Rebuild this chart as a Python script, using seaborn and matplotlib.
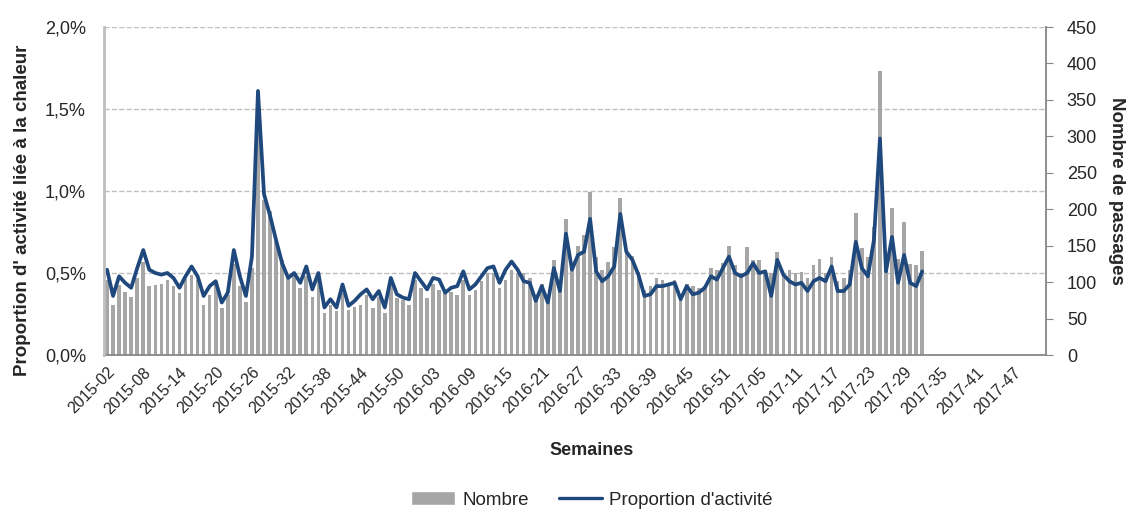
import numpy as np
import pandas as pd
import matplotlib
matplotlib.use("Agg")
import matplotlib.pyplot as plt
import seaborn as sns
from matplotlib.patches import Patch
from matplotlib.lines import Line2D
from matplotlib.ticker import FuncFormatter, FixedLocator

# Style de base
sns.set_style("white")
plt.rcParams['font.family'] = ['Liberation Sans', 'DejaVu Sans']

# Semaines affichées sur l'axe (2015-02 -> 2017-52)
semaines = ([f"2015-{w:02d}" for w in range(2, 54)]
            + [f"2016-{w:02d}" for w in range(1, 53)]
            + [f"2017-{w:02d}" for w in range(1, 53)])

# Nombre de passages (axe droit)
nombre = [103, 69, 96, 87, 80, 105, 128, 94, 96, 98, 103, 94, 85, 104, 110, 103,
          69, 82, 101, 64, 82, 125,
          94, 73, 120, 340, 213, 197, 156, 130, 105, 112, 92, 108, 80, 105, 57,
          69, 61, 85, 62, 66, 69, 82, 64,
          80, 57, 96, 78, 76, 69, 103, 92, 78, 98, 89, 85, 87, 82, 103, 82, 89,
          101, 112, 112, 92, 103, 117,
          112, 113, 105, 82, 98, 79, 130, 94, 186, 121, 150, 164, 224, 135, 117,
          128, 148, 215, 142, 136, 114, 89,
          94, 105, 103, 95, 103, 78, 98, 94, 92, 94, 119, 117, 126, 150, 124, 113,
          148, 130, 131, 117, 112, 141,
          108, 116, 112, 114, 105, 123, 132, 112, 134, 101, 105, 116, 195, 147,
          134, 176, 390, 130, 201, 132, 182, 125, 123, 143]

# Proportion d'activité liée à la chaleur, en % (axe gauche)
proportion = [0.52, 0.36, 0.48, 0.44, 0.41, 0.53, 0.64, 0.52, 0.50, 0.49, 0.50,
              0.47, 0.41, 0.48, 0.54, 0.48, 0.36, 0.42, 0.45, 0.32, 0.38, 0.64,
              0.48, 0.36, 0.60, 1.61, 0.98, 0.85, 0.70, 0.56, 0.47, 0.50, 0.44,
              0.54, 0.40, 0.50, 0.29, 0.34, 0.29, 0.43, 0.30, 0.33, 0.37, 0.40, 0.34,
              0.39, 0.29, 0.47, 0.37, 0.35, 0.34, 0.50, 0.45, 0.40, 0.47, 0.46,
              0.38, 0.41, 0.42, 0.51, 0.40, 0.43, 0.48, 0.53, 0.54, 0.44, 0.52,
              0.57, 0.52, 0.45, 0.44, 0.33, 0.42, 0.32, 0.53, 0.39, 0.74, 0.52,
              0.61, 0.63, 0.83, 0.51, 0.45, 0.48, 0.54, 0.86, 0.63, 0.58, 0.49,
              0.36, 0.37, 0.42, 0.42, 0.43, 0.44, 0.34, 0.42, 0.37, 0.38, 0.41,
              0.48, 0.46, 0.53, 0.60, 0.50, 0.48, 0.50, 0.56, 0.50, 0.51, 0.36, 0.58,
              0.49, 0.45, 0.43, 0.44, 0.39, 0.45, 0.47, 0.45, 0.54, 0.39, 0.39,
              0.43, 0.69, 0.53, 0.48, 0.70, 1.32, 0.51, 0.72, 0.44, 0.61, 0.44,
              0.42, 0.51]

df = pd.DataFrame({
    'semaine': semaines[:len(nombre)],
    'nombre': nombre,
    'proportion': proportion,
})
df['pos'] = np.arange(len(df))

gris_barre = '#A6A6A6'
bleu = '#1F497D'

fig = plt.figure(figsize=(11.29, 5.11), dpi=100)
ax_bar = fig.add_axes([104 / 1129, 1 - 355 / 511, 942 / 1129, 328 / 511])

# Barres : nombre de passages
sns.barplot(data=df, x='semaine', y='nombre', order=semaines, color=gris_barre,
            saturation=1, width=0.6, linewidth=0, ax=ax_bar)

# Courbe : proportion d'activité
ax_line = ax_bar.twinx()
sns.lineplot(data=df, x='pos', y='proportion', color=bleu, linewidth=2.7, ax=ax_line)

ax_bar.set_xlim(-0.5, len(semaines) - 0.5)
ax_bar.set_ylim(0, 450)
ax_line.set_ylim(0, 2.0)

# Axe droit (nombre)
ax_bar.yaxis.tick_right()
ax_bar.yaxis.set_label_position('right')
ax_bar.set_yticks(np.arange(0, 451, 50))
ax_bar.tick_params(axis='y', which='major', direction='out', length=5,
                   color='#868686', pad=10, labelsize=13)
ax_bar.yaxis.set_minor_locator(FixedLocator([112.5, 225, 337.5]))
ax_bar.tick_params(axis='y', which='minor', length=0)
ax_bar.grid(axis='y', which='minor', color='#BFBFBF', linestyle='--', linewidth=1)
ax_bar.axhline(450, color='#BFBFBF', linestyle='--', linewidth=1, zorder=0)
ax_bar.set_axisbelow(True)

# Axe gauche (proportion)
ax_line.yaxis.tick_left()
ax_line.yaxis.set_label_position('left')
ax_line.set_yticks(np.arange(0, 2.01, 0.5))
ax_line.yaxis.set_major_formatter(FuncFormatter(lambda v, p: f"{v:.1f}%".replace('.', ',')))
ax_line.tick_params(axis='y', length=0, pad=13, labelsize=13)

# Axe X : une graduation par semaine, une étiquette toutes les 6 semaines
ax_bar.set_xticks(np.arange(0, len(semaines), 6))
ax_bar.set_xticklabels(semaines[::6], rotation=45, ha='right', rotation_mode='anchor',
                       fontsize=11.5)
ax_bar.set_xticks(np.arange(-0.5, len(semaines), 1), minor=True)
ax_bar.tick_params(axis='x', which='major', length=0, pad=7)
ax_bar.tick_params(axis='x', which='minor', direction='out', length=4,
                   color='#868686', width=1)

# Bordures
for s in ['top', 'left']:
    ax_bar.spines[s].set_visible(False)
for s in ['right', 'bottom']:
    ax_bar.spines[s].set_color('#868686')
    ax_bar.spines[s].set_linewidth(1.3)
for s in ['top', 'right', 'bottom']:
    ax_line.spines[s].set_visible(False)
ax_line.spines['left'].set_color('#BFBFBF')
ax_line.spines['left'].set_linewidth(2)

# Titres des axes
ax_line.set_ylabel("Proportion d' activité liée à la chaleur", fontsize=13.5, fontweight='bold')
ax_line.yaxis.label.set(va='center', ha='center', rotation_mode='anchor')
ax_line.yaxis.set_label_coords(-0.087, 0.442)

ax_bar.set_ylabel("Nombre de passages", fontsize=13.5, fontweight='bold')
ax_bar.yaxis.label.set(rotation=-90, va='center', ha='center', rotation_mode='anchor')
ax_bar.yaxis.set_label_coords(1.075, 0.5)

ax_bar.set_xlabel("Semaines", fontsize=13, fontweight='bold')
ax_bar.xaxis.label.set(va='center', ha='center')
ax_bar.xaxis.set_label_coords(0.518, -0.29)

# Légende
handles = [Patch(facecolor=gris_barre, label='Nombre'),
           Line2D([0], [0], color=bleu, lw=2.4, label="Proportion d'activité")]
fig.legend(handles=handles, loc='center', bbox_to_anchor=(592 / 1129, 1 - 500 / 511),
           ncol=2, frameon=False, fontsize=13.5, handlelength=2.3,
           columnspacing=1.6, handletextpad=0.4)

fig.savefig('out.png', dpi=100)
plt.close()
